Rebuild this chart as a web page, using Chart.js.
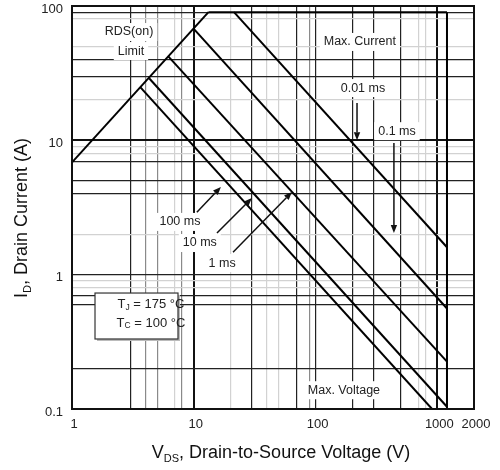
<!DOCTYPE html>
<html>
<head>
<meta charset="utf-8">
<script src="https://cdn.jsdelivr.net/npm/chart.js@4.4.1/dist/chart.umd.min.js"></script>
<style>
  html, body { margin: 0; padding: 0; background: #fff; }
  #wrap { width: 500px; height: 470px; position: relative; }
</style>
</head>
<body>
<div id="wrap"><canvas id="soa-chart"></canvas></div>
<script>
// boundary lines of the safe operating area (V, A)
const rdsLimitV = [1, 13.2];
const rdsLimitI = [6.85, 90];
const maxCurrentV = [13.2, 1200];
const maxCurrentI = [90, 90];
const maxVoltageV = [1200, 1200];
const maxVoltageI = [90, 0.1];

// single pulse lines
const pulseLabels = ['0.01 ms', '0.1 ms', '1 ms', '10 ms', '100 ms'];
const pulseStartV = [21.4, 10, 6.2, 4.3, 3.65];
const pulseStartI = [90, 67.5, 42, 29, 24.8];
const pulseEndV = [1200, 1200, 1200, 1200, 905];
const pulseEndI = [1.6, 0.56, 0.225, 0.104, 0.1];

const xTickLabels = [1, 10, 100, 1000, 2000];
const yTickLabels = [0.1, 1, 10, 100];

// the scanned grid is irregular, so list its lines
const xGridThick = [10, 1000];
const xGridDark = [3, 30, 70, 100, 200, 300, 500];
const xGridGray = [4, 5, 8, 90];
const xGridLight = [7, 20, 40, 50, 700, 800];
const yGridThick = [10];
const yGridDark = [0.2, 0.6, 0.7, 1, 4, 5, 7, 30, 40, 90];
const yGridLight = [0.8, 0.9, 2, 8, 9, 20, 50, 80];

const FONT = "'Liberation Sans', Arial, sans-serif";

function tickList(lists) {
    const all = [...new Set(lists.flat())].sort((a, b) => a - b);
    return all.map(v => ({ value: v }));
}

function gridStyle(v, thick, dark, gray, light) {
    if (thick.includes(v)) return { color: '#111', width: 2 };
    if (dark.includes(v)) return { color: '#222', width: 1.2 };
    if (gray.includes(v)) return { color: '#8a8a8a', width: 1.2 };
    if (light.includes(v)) return { color: '#d2d2d2', width: 1.2 };
    return { color: 'rgba(0,0,0,0)', width: 0 };
}
const xGrid = v => gridStyle(v, xGridThick, xGridDark, xGridGray, xGridLight);
const yGrid = v => gridStyle(v, yGridThick, yGridDark, [], yGridLight);

function segment(vs, is) {
    return vs.map((v, k) => ({ x: v, y: is[k] }));
}

const datasets = [];
datasets.push({ label: 'RDS(on) Limit', data: segment(rdsLimitV, rdsLimitI) });
datasets.push({ label: 'Max. Current', data: segment(maxCurrentV, maxCurrentI) });
datasets.push({ label: 'Max. Voltage', data: segment(maxVoltageV, maxVoltageI) });
pulseLabels.forEach((name, k) => {
    datasets.push({
        label: name,
        data: segment([pulseStartV[k], pulseEndV[k]], [pulseStartI[k], pulseEndI[k]])
    });
});
datasets.forEach(ds => {
    ds.showLine = true;
    ds.borderColor = '#000';
    ds.borderWidth = 2;
    ds.pointRadius = 0;
    ds.fill = false;
});

// text notes and arrows, placed in data coordinates
const notes = [
    { text: 'RDS(on)', v: 2.94, i: 64 },
    { text: 'Limit', v: 3.05, i: 46.2 },
    { text: 'Max. Current', v: 231, i: 54 },
    { text: '0.01 ms', v: 245, i: 24.5 },
    { text: '0.1 ms', v: 466, i: 11.7 },
    { text: '100 ms', v: 7.7, i: 2.47 },
    { text: '10 ms', v: 11.2, i: 1.72 },
    { text: '1 ms', v: 17.1, i: 1.22 },
    { text: 'Max. Voltage', v: 171, i: 0.138 }
];
const arrows = [
    [219, 19, 219, 10],
    [440, 9.55, 440, 2.04],
    [10.6, 2.92, 16.7, 4.49],
    [15.5, 2.04, 30, 3.72],
    [21, 1.47, 64, 4.12]
];
const tempBox = { v1: 1.545, i1: 0.73, v2: 7.42, i2: 0.332 };
const tempLines = [
    { main: 'T', sub: 'J', rest: ' = 175 °C', v: 4.45, i: 0.60 },
    { main: 'T', sub: 'C', rest: ' = 100 °C', v: 4.45, i: 0.436 }
];

function drawSub(ctx, x, y, parts, align) {
    // parts: [[text, size, dy], ...]
    let total = 0;
    parts.forEach(p => { ctx.font = p[1] + 'px ' + FONT; total += ctx.measureText(p[0]).width; });
    let cx = align === 'center' ? x - total / 2 : x;
    ctx.textAlign = 'left';
    parts.forEach(p => {
        ctx.font = p[1] + 'px ' + FONT;
        ctx.fillText(p[0], cx, y + p[2]);
        cx += ctx.measureText(p[0]).width;
    });
}

const annotate = {
    id: 'annotate',
    afterDraw(chart) {
        const { ctx, chartArea: a, scales: { x, y } } = chart;
        ctx.save();
        // white backing behind the notes
        ctx.font = '12.5px ' + FONT;
        ctx.fillStyle = '#fff';
        notes.forEach(n => {
            const w = ctx.measureText(n.text).width;
            const px = x.getPixelForValue(n.v), py = y.getPixelForValue(n.i);
            ctx.fillRect(px - w / 2 - 4, py - 9, w + 8, 18);
        });
        // temperature box
        const bx1 = x.getPixelForValue(tempBox.v1), bx2 = x.getPixelForValue(tempBox.v2);
        const by1 = y.getPixelForValue(tempBox.i1), by2 = y.getPixelForValue(tempBox.i2);
        ctx.fillStyle = '#bbb';
        ctx.fillRect(bx1 + 2, by1 + 2, bx2 - bx1, by2 - by1);
        ctx.fillStyle = '#fff';
        ctx.fillRect(bx1, by1, bx2 - bx1, by2 - by1);
        ctx.strokeStyle = '#333';
        ctx.lineWidth = 1.2;
        ctx.strokeRect(bx1, by1, bx2 - bx1, by2 - by1);

        ctx.fillStyle = '#222';
        ctx.textBaseline = 'middle';
        ctx.textAlign = 'center';
        ctx.font = '12.5px ' + FONT;
        notes.forEach(n => {
            ctx.fillText(n.text, x.getPixelForValue(n.v), y.getPixelForValue(n.i));
        });
        tempLines.forEach(t => {
            drawSub(ctx, x.getPixelForValue(t.v), y.getPixelForValue(t.i),
                [[t.main, 13, 0], [t.sub, 8.5, 3], [t.rest, 13, 0]], 'center');
        });
        // arrows
        ctx.strokeStyle = '#111';
        ctx.fillStyle = '#111';
        ctx.lineWidth = 1.5;
        arrows.forEach(ar => {
            const x1 = x.getPixelForValue(ar[0]), y1 = y.getPixelForValue(ar[1]);
            const x2 = x.getPixelForValue(ar[2]), y2 = y.getPixelForValue(ar[3]);
            const ang = Math.atan2(y2 - y1, x2 - x1);
            const hl = 8, hw = 3.2;
            const bx = x2 - hl * Math.cos(ang), by = y2 - hl * Math.sin(ang);
            ctx.beginPath();
            ctx.moveTo(x1, y1);
            ctx.lineTo(bx, by);
            ctx.stroke();
            ctx.beginPath();
            ctx.moveTo(x2, y2);
            ctx.lineTo(bx + hw * Math.sin(ang), by - hw * Math.cos(ang));
            ctx.lineTo(bx - hw * Math.sin(ang), by + hw * Math.cos(ang));
            ctx.closePath();
            ctx.fill();
        });
        // plot frame
        ctx.strokeStyle = '#111';
        ctx.lineWidth = 2;
        ctx.strokeRect(a.left, a.top, a.right - a.left, a.bottom - a.top);

        // axis titles with subscripts
        ctx.fillStyle = '#111';
        ctx.textBaseline = 'alphabetic';
        drawSub(ctx, 281, 458, [['V', 18, 0], ['DS', 11, 4], [', Drain-to-Source Voltage (V)', 18, 0]], 'center');
        ctx.translate(27, 218);
        ctx.rotate(-Math.PI / 2);
        drawSub(ctx, 0, 0, [['I', 18, 0], ['D', 11, 4], [', Drain Current (A)', 18, 0]], 'center');
        ctx.restore();
    }
};

new Chart(document.getElementById('soa-chart'), {
    type: 'scatter',
    data: { datasets: datasets },
    options: {
        responsive: true,
        maintainAspectRatio: false,
        animation: false,
        layout: { padding: { top: 6, right: 26, left: 0, bottom: 0 } },
        plugins: { legend: { display: false }, tooltip: { enabled: false } },
        scales: {
            x: {
                type: 'logarithmic',
                min: 1,
                max: 2000,
                afterBuildTicks: axis => {
                    axis.ticks = tickList([xTickLabels, xGridThick, xGridDark, xGridGray, xGridLight]);
                },
                afterFit: axis => {
                    axis.height = 61;
                    axis.paddingLeft = 0;
                    axis.paddingRight = 0;
                },
                border: { display: false },
                grid: {
                    drawTicks: false,
                    color: ctx => ctx.tick ? xGrid(ctx.tick.value).color : 'rgba(0,0,0,0)',
                    lineWidth: ctx => ctx.tick ? xGrid(ctx.tick.value).width : 0
                },
                ticks: {
                    autoSkip: false,
                    maxRotation: 0,
                    padding: 8,
                    labelOffset: 2,
                    color: '#222',
                    font: { family: FONT, size: 13 },
                    callback: v => xTickLabels.includes(v) ? String(v) : ''
                }
            },
            y: {
                type: 'logarithmic',
                min: 0.1,
                max: 100,
                afterBuildTicks: axis => {
                    axis.ticks = tickList([yTickLabels, yGridThick, yGridDark, yGridLight]);
                },
                afterFit: axis => {
                    axis.width = 72;
                    axis.paddingTop = 0;
                    axis.paddingBottom = 0;
                },
                border: { display: false },
                grid: {
                    drawTicks: false,
                    color: ctx => ctx.tick ? yGrid(ctx.tick.value).color : 'rgba(0,0,0,0)',
                    lineWidth: ctx => ctx.tick ? yGrid(ctx.tick.value).width : 0
                },
                ticks: {
                    autoSkip: false,
                    padding: 9,
                    labelOffset: 3,
                    color: '#222',
                    font: { family: FONT, size: 13 },
                    callback: v => yTickLabels.includes(v) ? String(v) : ''
                }
            }
        }
    },
    plugins: [annotate]
});
</script>
</body>
</html>
